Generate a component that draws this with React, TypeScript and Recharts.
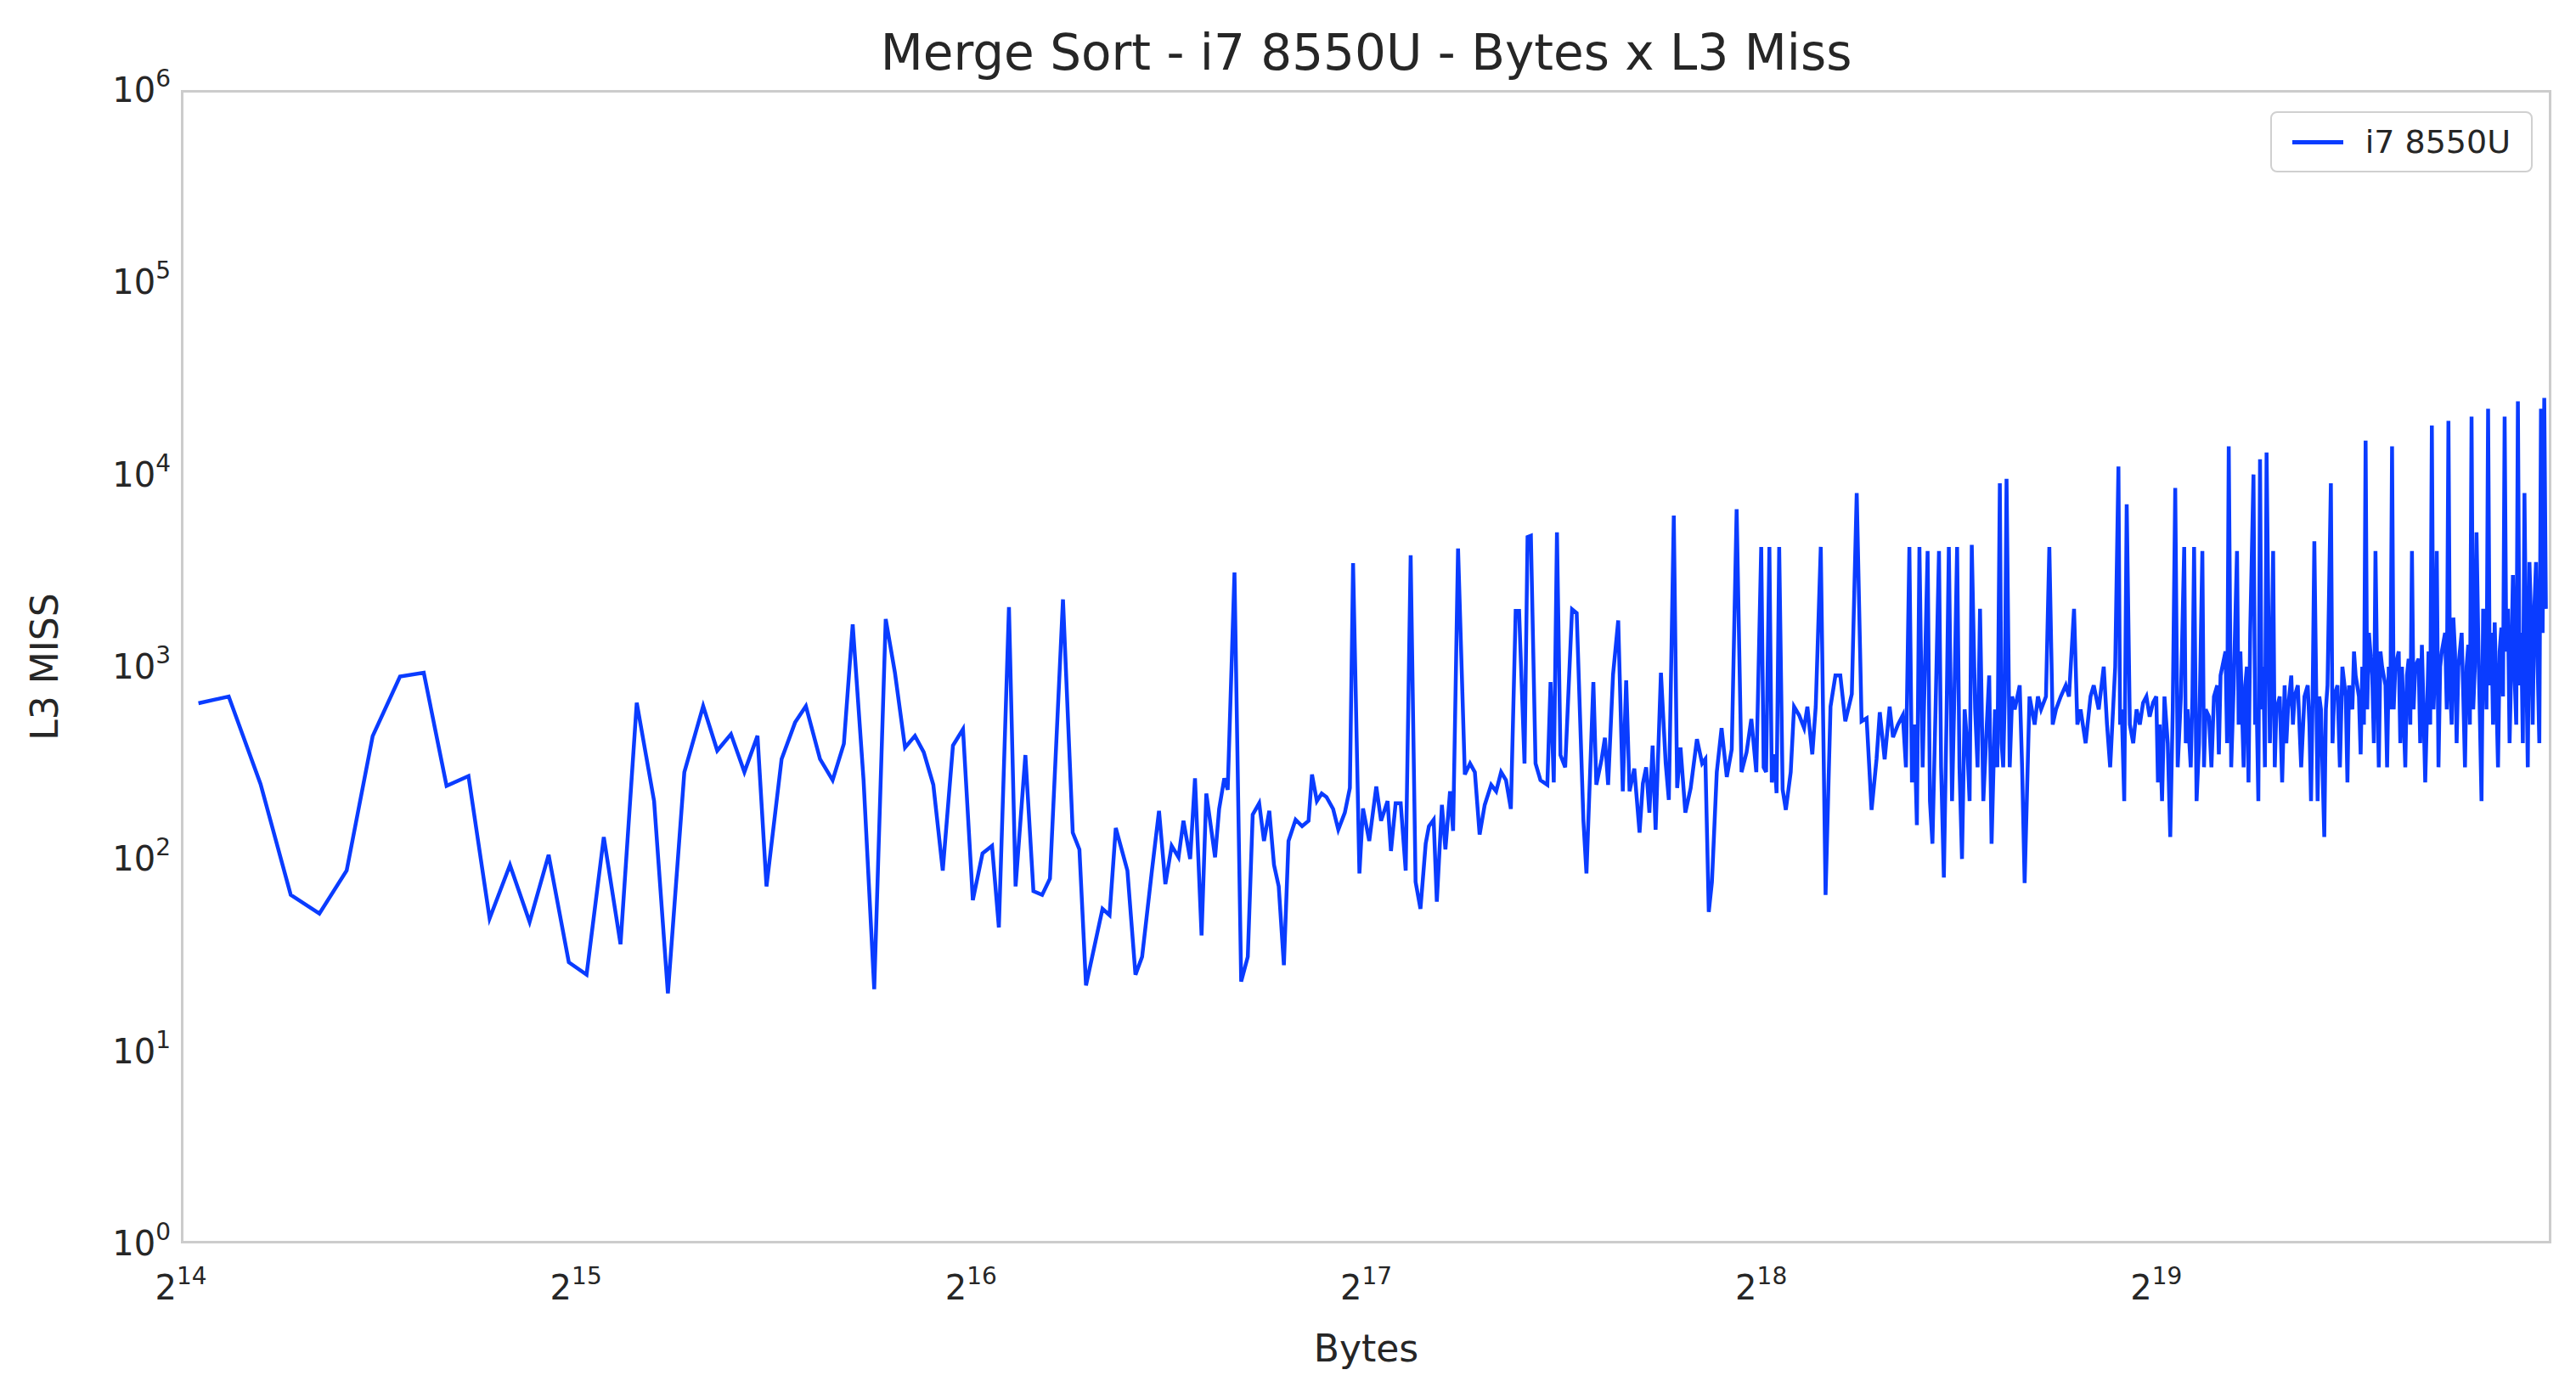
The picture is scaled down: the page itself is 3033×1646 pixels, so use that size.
import { Line, LineChart, XAxis, YAxis } from "recharts";

// Merge sort on i7 8550U: L3 misses against input size. Sizes are in KiB.

const X_TICKS = [16, 32, 64, 128, 256, 512];
const Y_TICKS = [1, 10, 100, 1000, 10000, 100000, 1000000];

// [KiB, L3 miss]
const SEG_16K: [number, number][] = [
  [16.5, 646], [17.4, 700], [18.4, 245], [19.4, 65], [20.4, 52], [21.4, 87], [22.4, 436], [23.5, 890],
  [24.5, 930], [25.5, 240], [26.5, 270], [27.5, 49], [28.5, 93], [29.5, 47], [30.5, 105], [31.6, 29]
];

const SEG_32K: [number, number][] = [
  [32.6, 25], [33.6, 130], [34.6, 36], [35.6, 650], [36.7, 200], [37.6, 20], [38.7, 283], [40.0, 624],
  [41.0, 366], [42.0, 446], [43.0, 283], [44.0, 437], [44.7, 72], [45.9, 331], [47.0, 513], [47.9, 624],
  [49.1, 331], [50.2, 257], [51.2, 398], [52.0, 1660], [53.0, 257], [54.0, 21], [55.1, 1770], [56.0, 930],
  [57.0, 380], [58.0, 437], [58.9, 359], [59.9, 243], [60.9, 87], [62.0, 389], [63.1, 473]
];

const SEG_64K: [number, number][] = [
  [64.2, 61], [65.3, 107], [66.4, 117], [67.2, 44], [68.4, 2040], [69.2, 72], [70.4, 347], [71.4, 68],
  [72.5, 65], [73.5, 79], [75.2, 2240], [76.5, 137], [77.4, 112], [78.3, 22], [80.6, 55], [81.6, 51],
  [82.5, 145], [84.2, 87], [85.4, 25], [86.4, 31], [87.9, 87], [89.0, 178], [90.0, 74], [91.0, 117],
  [92.1, 102], [92.9, 158], [94.0, 100], [94.8, 263], [95.9, 40], [96.7, 219], [98.2, 102], [98.9, 182],
  [99.8, 263], [100.4, 229], [101.6, 3090], [102.8, 23], [104.0, 31], [104.9, 170], [106.1, 195], [107.0, 124],
  [108.0, 178], [108.9, 93], [109.8, 72], [110.8, 28], [111.7, 124], [113.1, 160], [114.4, 148], [115.7, 158],
  [116.4, 275], [117.4, 200], [118.4, 219], [119.4, 210], [120.8, 182], [121.9, 142], [123.3, 174], [124.4, 234],
  [125.1, 3460], [126.5, 84], [127.3, 183]
];

const SEG_128K: [number, number][] = [
  [128.7, 124], [130.3, 238], [131.4, 158], [132.9, 200], [133.7, 110], [134.8, 195], [136.0, 195], [137.2, 87],
  [138.4, 3800], [139.6, 76], [140.8, 55], [142.1, 120], [142.9, 148], [144.1, 160], [144.9, 60], [146.2, 191],
  [147.1, 112], [148.3, 225], [149.1, 140], [150.4, 4120], [152.2, 275], [153.6, 314], [154.9, 283], [156.2, 134],
  [157.6, 191], [159.4, 243], [160.8, 225], [162.2, 283], [163.6, 257], [165.0, 182], [166.4, 1950], [167.4, 1950],
  [169.0, 314], [169.9, 4730], [170.9, 4800], [172.3, 314], [173.8, 257], [175.9, 243], [176.9, 833], [177.9, 250],
  [178.9, 5000], [180.0, 347], [181.5, 300], [183.7, 1990], [185.2, 1900], [187.4, 158], [188.4, 84], [190.7, 833],
  [191.7, 243], [193.5, 331], [194.6, 427], [195.7, 243], [197.4, 910], [199.2, 1740], [200.8, 225], [202.0, 850],
  [203.2, 225], [204.9, 295], [206.8, 137], [208.0, 247], [209.2, 300], [210.4, 174], [211.6, 389], [212.7, 142],
  [214.7, 930], [216.5, 314], [217.7, 203], [219.6, 6110], [220.9, 234], [222.2, 380], [224.1, 174], [226.2, 234],
  [228.7, 420], [230.8, 314], [232.1, 331], [233.5, 53], [234.8, 76], [236.8, 283], [238.8, 480], [241.0, 267],
  [243.1, 372], [245.2, 6600], [247.3, 283], [249.5, 359], [251.6, 535], [253.8, 283]
];

const SEG_256K: [number, number][] = [
  [256.0, 4200], [257.1, 300], [258.2, 283], [259.7, 4200], [260.8, 250], [261.9, 350], [263.0, 220], [264.2, 4200],
  [265.8, 230], [267.3, 180], [269.6, 283], [271.2, 620], [273.6, 560], [276.0, 480], [277.6, 620], [280.0, 350],
  [281.7, 620], [284.2, 4200], [286.6, 65], [289.1, 620], [291.6, 900], [294.1, 900], [296.7, 520], [300.1, 720],
  [302.7, 8000], [305.3, 520], [308.0, 540], [310.7, 180], [313.4, 330], [315.2, 580], [317.9, 330], [320.7, 620],
  [322.6, 430], [325.4, 500], [328.2, 560], [330.0, 300], [332.0, 4200], [333.5, 250], [334.9, 500], [336.4, 150],
  [337.9, 4200], [339.8, 300], [341.2, 1000], [342.8, 4000], [344.2, 200], [345.7, 120], [347.6, 600], [349.7, 4000],
  [351.0, 300], [352.7, 80], [354.3, 500], [355.8, 4200], [357.8, 200], [359.4, 800], [361.0, 4200], [362.5, 300],
  [364.1, 100], [365.8, 600], [367.4, 400], [369.0, 200], [370.4, 4300], [372.6, 600], [374.2, 300], [375.8, 2000],
  [378.0, 200], [380.3, 500], [381.9, 900], [383.5, 120], [385.8, 600], [387.4, 300], [389.1, 9000], [390.3, 400],
  [391.4, 300], [392.5, 700], [393.7, 9500], [395.9, 300], [397.6, 700], [399.4, 600], [402.9, 800], [404.6, 300],
  [406.4, 75], [409.9, 700], [413.6, 500], [416.0, 700], [418.3, 600], [421.9, 700], [424.4, 4200], [426.9, 500],
  [429.4, 600], [433.0, 700], [436.8, 800], [439.3, 700], [443.2, 2000], [445.8, 500], [448.3, 600], [452.3, 400],
  [456.2, 700], [458.8, 800], [462.8, 600], [466.9, 1000], [469.6, 500], [472.2, 300], [476.4, 1000], [479.1, 11000],
  [480.5, 500], [481.9, 600], [484.0, 200], [486.1, 7000], [488.8, 500], [491.7, 400], [494.6, 600], [497.4, 500],
  [500.3, 650], [503.2, 700], [506.1, 550], [509.1, 650]
];

const SEG_512K: [number, number][] = [
  [512.0, 700], [513.5, 250], [515.0, 500], [517.2, 200], [519.4, 700], [522.4, 400], [524.7, 130], [527.0, 600],
  [529.3, 8500], [531.6, 300], [534.6, 700], [537.7, 4200], [539.2, 400], [540.8, 600], [543.9, 300], [545.5, 700],
  [547.1, 4200], [549.5, 200], [551.9, 400], [555.1, 4000], [556.7, 300], [558.3, 600], [561.6, 550], [564.0, 300],
  [566.5, 700], [569.8, 800], [571.4, 350], [573.1, 900], [578.1, 1200], [579.7, 400], [581.4, 14000], [583.9, 300],
  [586.5, 800], [589.9, 4000], [591.6, 500], [593.4, 1200], [596.8, 300], [598.5, 800], [600.2, 1000], [601.9, 250],
  [603.7, 1500], [607.2, 10000], [608.9, 500], [610.7, 600], [612.4, 200], [614.2, 12000], [615.9, 600], [617.7, 1000],
  [619.5, 300], [621.3, 13000], [624.9, 400], [626.7, 900], [628.5, 4000], [630.3, 300], [632.1, 600], [635.8, 700],
  [638.5, 250], [641.3, 800], [643.2, 400], [645.1, 600], [648.8, 900], [650.7, 500], [652.6, 700], [656.3, 800],
  [660.2, 300], [664.0, 700], [667.8, 800], [669.8, 500], [671.7, 200], [673.6, 700], [675.6, 4500], [679.5, 200],
  [681.5, 700], [683.5, 600], [687.5, 130], [689.4, 600], [691.4, 800], [695.5, 9000], [697.5, 400], [699.5, 700],
  [703.6, 800], [706.6, 300], [709.7, 1000], [713.9, 700], [716.0, 250], [718.0, 800], [722.2, 600], [724.3, 1200],
  [726.4, 900], [730.6, 700], [732.8, 350], [734.9, 1000], [737.0, 500], [739.2, 15000], [741.3, 600], [743.5, 1500],
  [747.8, 900], [750.0, 400], [752.1, 4000], [754.3, 900], [756.5, 300], [758.7, 1200], [760.9, 1000], [765.4, 800],
  [767.6, 300], [769.8, 1000], [772.0, 600], [774.3, 14000], [776.5, 600], [778.8, 1000], [783.4, 1200], [785.6, 400],
  [787.9, 1000], [792.5, 300], [794.8, 900], [797.2, 1100], [799.5, 500], [801.8, 4000], [804.1, 600], [806.5, 1000],
  [811.2, 1100], [813.5, 400], [815.9, 1300], [818.3, 600], [820.7, 250], [825.5, 1200], [827.9, 500], [830.3, 18000],
  [832.7, 600], [835.1, 1000], [837.5, 4000], [840.0, 300], [842.5, 1000], [844.9, 1200], [849.8, 1500], [852.3, 600],
  [854.8, 19000], [857.2, 800], [859.7, 500], [862.2, 1800], [864.7, 1200], [867.2, 400], [869.8, 1000], [874.9, 1500],
  [877.4, 700], [880.0, 300], [882.5, 1000], [885.1, 1300], [887.6, 500], [890.2, 20000], [892.8, 600], [895.4, 1000],
  [898.0, 5000], [900.6, 1500], [905.9, 200], [908.5, 2000], [911.1, 1300], [913.8, 600], [916.4, 22000], [919.1, 800],
  [921.8, 1500], [924.4, 500], [927.1, 1700], [932.5, 300], [935.2, 1200], [938.0, 1600], [940.7, 700], [943.4, 20000],
  [946.1, 1200], [948.9, 2000], [951.6, 400], [954.4, 1000], [957.2, 3000], [960.0, 900], [962.8, 500], [965.6, 24000],
  [968.4, 800], [971.2, 1500], [974.0, 400], [976.8, 8000], [979.6, 1200], [982.5, 300], [985.4, 3500], [988.2, 1700],
  [991.0, 500], [993.9, 2000], [996.8, 3500], [999.7, 1000], [1002.6, 400], [1005.5, 22000], [1008.4, 1500], [1011.3, 25000],
  [1014.2, 2000]
];

const data = [...SEG_16K, ...SEG_32K, ...SEG_64K, ...SEG_128K, ...SEG_256K, ...SEG_512K].map(([kib, miss]) => ({
  kib,
  miss
}));

const FONT = "'DejaVu Sans', sans-serif";
const TEXT = "#262626";
const LINE = "#0a3cff";

const W = 3033;
const H = 1646;
const PLOT = { left: 213, right: 3004, top: 106, bottom: 1464 };

function XTick({ x, y, payload }: any) {
  const exp = Math.round(Math.log2(payload.value * 1024));
  return (
    <text x={x} y={y + 58} textAnchor="middle" fill={TEXT} fontFamily={FONT} fontSize={40}>
      2<tspan dy={-18} fontSize={28}>{exp}</tspan>
    </text>
  );
}

function YTick({ x, y, payload }: any) {
  const exp = Math.round(Math.log10(payload.value));
  return (
    <text x={x - 4} y={y + 14} textAnchor="end" fill={TEXT} fontFamily={FONT} fontSize={40}>
      10<tspan dy={-18} fontSize={28}>{exp}</tspan>
    </text>
  );
}

export default function App() {
  return (
    <div style={{ position: "absolute", left: 0, top: 0, width: W, height: H, background: "#fff" }}>
      <LineChart
        width={W}
        height={H}
        data={data}
        margin={{ top: PLOT.top, right: W - PLOT.right, bottom: 0, left: 0 }}
      >
        <XAxis
          dataKey="kib"
          type="number"
          scale="log"
          base={2}
          domain={[16, 1024]}
          ticks={X_TICKS}
          tick={<XTick />}
          tickLine={false}
          axisLine={false}
          height={H - PLOT.bottom}
          allowDataOverflow
        />
        <YAxis
          type="number"
          scale="log"
          domain={[1, 1000000]}
          ticks={Y_TICKS}
          tick={<YTick />}
          tickLine={false}
          axisLine={false}
          width={PLOT.left}
          allowDataOverflow
        />
        <Line
          type="linear"
          dataKey="miss"
          stroke={LINE}
          strokeWidth={4.5}
          dot={false}
          isAnimationActive={false}
        />
      </LineChart>
      <div
        style={{
          position: "absolute",
          left: PLOT.left,
          top: PLOT.top,
          width: PLOT.right - PLOT.left,
          height: PLOT.bottom - PLOT.top,
          border: "3px solid #cccccc",
          boxSizing: "border-box",
          pointerEvents: "none"
        }}
      />
      <div
        style={{
          position: "absolute",
          right: W - 2982,
          top: 131,
          display: "flex",
          alignItems: "center",
          gap: 26,
          padding: "12px 24px",
          border: "2px solid #d0d0d0",
          borderRadius: 8,
          background: "#fff",
          fontFamily: FONT,
          fontSize: 38,
          color: TEXT
        }}
      >
        <span style={{ display: "inline-block", width: 60, height: 5, background: LINE }} />
        i7 8550U
      </div>
      <div
        style={{
          position: "absolute",
          left: PLOT.left,
          width: PLOT.right - PLOT.left,
          top: 28,
          textAlign: "center",
          fontFamily: FONT,
          fontSize: 58,
          color: TEXT
        }}
      >
        Merge Sort - i7 8550U - Bytes x L3 Miss
      </div>
      <div
        style={{
          position: "absolute",
          left: PLOT.left,
          width: PLOT.right - PLOT.left,
          top: 1562,
          textAlign: "center",
          fontFamily: FONT,
          fontSize: 44,
          color: TEXT
        }}
      >
        Bytes
      </div>
      <div
        style={{
          position: "absolute",
          left: 52,
          top: (PLOT.top + PLOT.bottom) / 2,
          transform: "translate(-50%, -50%) rotate(-90deg)",
          fontFamily: FONT,
          fontSize: 44,
          color: TEXT,
          whiteSpace: "nowrap"
        }}
      >
        L3 MISS
      </div>
    </div>
  );
}
